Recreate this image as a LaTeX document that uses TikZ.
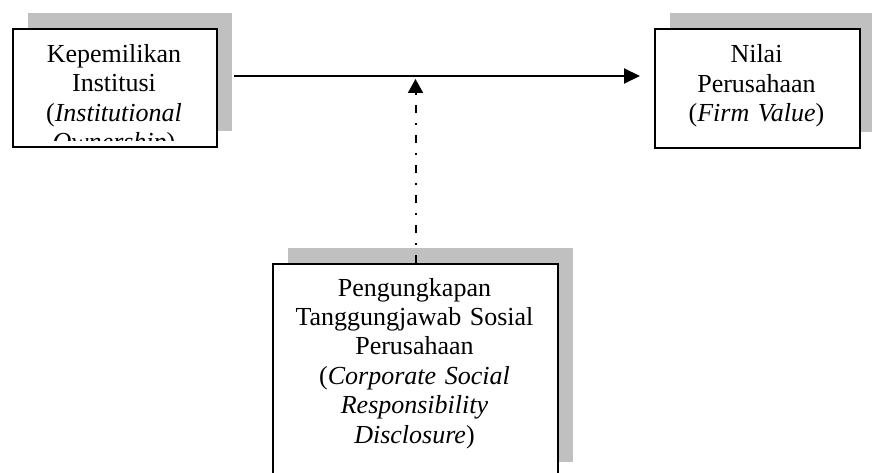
\documentclass[tikz,border=0pt]{standalone}
\usepackage{fontspec}
\setmainfont{Liberation Serif}
\usetikzlibrary{shadows,arrows.meta,calc}
\definecolor{shadowgray}{RGB}{192,192,192}
\begin{document}
\begin{tikzpicture}[x=1pt,y=-1pt,
  box/.style={draw=black, line width=2pt, fill=white, inner sep=0pt, anchor=north west,
    general shadow={fill=shadowgray, draw=none, shadow xshift=15pt, shadow yshift=16pt}},
  txt/.style={inner sep=0pt, align=center, anchor=base,
    font=\fontsize{26}{29.4}\selectfont},
  link/.style={line width=2pt, -{Triangle[length=16pt,width=15pt]}},
  modlink/.style={line width=2pt, dash pattern=on 8pt off 10pt on 2pt off 10pt,
    -{Triangle[length=14pt,width=15pt]}}]
\useasboundingbox (0,0) rectangle (872,473);
\clip (0,0) rectangle (872,473);

% boxes
\node[box, minimum width=204pt, minimum height=118pt] (ko) at (12,28) {};
\node[box, minimum width=205pt, minimum height=119pt] (nv) at (654,28) {};
\node[box, minimum width=285pt, minimum height=214pt] (csr) at (272,263) {};

% texts
\begin{scope}
  \clip ([shift={(1pt,-1pt)}]ko.north west) rectangle ([shift={(-1pt,7pt)}]ko.south east);
  \node[txt, text width=200pt] (kot) at (114,62.5)
    {Kepemilikan\\Institusi\\(\textit{Institutional}\\\textit{Ownership})};
\end{scope}
\node[txt, text width=200pt] (nvt) at (756.5,63)
  {Nilai\\Perusahaan\\(\textit{Firm Value})};
\node[txt, text width=280pt] (csrt) at (414.5,296)
  {Pengungkapan\\Tanggungjawab Sosial\\Perusahaan\\(\textit{Corporate Social}\\\textit{Responsibility}\\\textit{Disclosure})};

% connectors
\coordinate (hs) at ([xshift=16pt,yshift=12pt]ko.east);
\coordinate (he) at ([xshift=-14pt,yshift=12.5pt]nv.west);
\draw[link] (hs) -- (he);
\coordinate (vt) at ($(csr.north |- hs)+(0,3)$);
\draw[modlink] (csr.north) -- (vt);
\end{tikzpicture}
\end{document}
